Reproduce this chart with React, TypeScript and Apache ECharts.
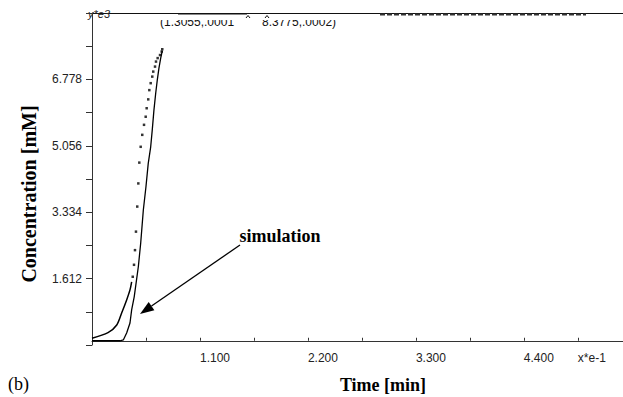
import React, { useEffect, useRef } from "react";
import * as echarts from "echarts";

// Simulation (solid line)
const simTime = [0, 0.285, 0.319, 0.353, 0.387, 0.404, 0.43, 0.472, 0.496, 0.523, 0.55, 0.573, 0.598, 0.614, 0.631, 0.649, 0.665, 0.682, 0.7, 0.716];
const simConc = [0, 0, 0.02, 0.2, 0.46, 0.8, 1.14, 1.92, 2.53, 3.39, 4.0, 4.6, 5.03, 5.47, 5.98, 6.42, 6.76, 7.07, 7.33, 7.52];

// Experiment, dense low part (appears as a line)
const expTimeLine = [0, 0.163, 0.252, 0.302, 0.353, 0.387, 0.404];
const expConcLine = [0.065, 0.21, 0.41, 0.72, 1.06, 1.32, 1.53];

// Experiment, sparse dots
const expTimeDots = [0.415, 0.428, 0.438, 0.448, 0.461, 0.472, 0.482, 0.496, 0.512, 0.53, 0.547, 0.557, 0.573, 0.584, 0.598, 0.614, 0.624, 0.642, 0.652, 0.669, 0.693, 0.71, 0.716];
const expConcDots = [1.66, 1.97, 2.35, 2.83, 3.48, 4.08, 4.62, 5.03, 5.34, 5.6, 5.81, 6.03, 6.26, 6.5, 6.68, 6.85, 6.98, 7.11, 7.24, 7.33, 7.41, 7.5, 7.56];

// Axes
const xMin = 0;
const xMax = 5.41;
const xStep = 0.55;
const yMin = -0.11;
const yMax = 8.5;
const yStep = 0.861;

const tickFont = "Liberation Sans";
const serif = "Liberation Serif";

export default function App() {
  const ref = useRef<HTMLDivElement>(null);
  useEffect(() => {
    if (!ref.current) return;
    const chart = echarts.init(ref.current, null, { renderer: "svg" });
    const zip = (a: number[], b: number[]) => a.map((v, i) => [v, b[i]]);
    // arrow geometry
    const sx = 240, sy = 245, tx = 140, ty = 314;
    const dx = tx - sx, dy = ty - sy;
    const len = Math.sqrt(dx * dx + dy * dy);
    const ux = dx / len, uy = dy / len;
    const hl = 14, hw = 5;
    const bx = tx - hl * ux, by = ty - hl * uy;
    const nx = -uy, ny = ux;
    chart.setOption({
      animation: false,
      backgroundColor: "#fff",
      grid: { left: 92, right: 0, top: 13, bottom: 52, containLabel: false },
      xAxis: {
        type: "value",
        min: xMin,
        max: xMax,
        interval: xStep,
        axisLine: { show: true, lineStyle: { color: "#333", width: 1 } },
        axisTick: { show: true, inside: true, length: 3, lineStyle: { color: "#333" } },
        splitLine: { show: false },
        axisLabel: {
          align: "left",
          margin: 7,
          fontFamily: tickFont,
          fontSize: 12,
          color: "#222",
          showMaxLabel: false,
          formatter: (v: number) => {
            const k = Math.round((v - xMin) / xStep);
            if (k % 2 === 0 && k > 0 && k <= 8) return v.toFixed(3);
            if (k === 9) return "x*e-1";
            return "";
          },
        },
      },
      yAxis: {
        type: "value",
        min: yMin,
        max: yMax,
        interval: yStep,
        axisLine: { show: true, lineStyle: { color: "#333", width: 1 } },
        axisTick: { show: true, inside: false, length: 6, lineStyle: { color: "#333" } },
        splitLine: { show: false },
        axisLabel: {
          margin: 10,
          padding: [5, 0, 0, 0],
          fontFamily: tickFont,
          fontSize: 12,
          color: "#222",
          formatter: (v: number) => {
            const k = Math.round((v - yMin) / yStep);
            if (k % 2 === 0 && k > 0 && k <= 8) return v.toFixed(3);
            return "";
          },
        },
      },
      series: [
        {
          type: "line",
          data: zip(simTime, simConc),
          showSymbol: false,
          lineStyle: { color: "#000", width: 1.3 },
        },
        {
          type: "line",
          data: zip(expTimeLine, expConcLine),
          showSymbol: false,
          smooth: 0.3,
          lineStyle: { color: "#000", width: 1.5 },
        },
        {
          type: "scatter",
          data: zip(expTimeDots, expConcDots),
          symbol: "rect",
          symbolSize: 2.5,
          itemStyle: { color: "#000" },
        },
      ],
      graphic: [
        // top frame line
        { type: "line", shape: { x1: 92, y1: 13.5, x2: 623, y2: 13.5 }, style: { stroke: "#111", lineWidth: 1 } },
        { type: "line", shape: { x1: 178, y1: 14, x2: 247, y2: 14 }, style: { stroke: "#111", lineWidth: 2 } },
        { type: "line", shape: { x1: 380, y1: 14.5, x2: 586, y2: 14.5 }, style: { stroke: "#333", lineWidth: 2, lineDash: [5, 2] } },
        // clipped coordinate readout
        { type: "text", style: { text: "(1.3055,.0001", x: 160, y: 22, verticalAlign: "middle", font: `12px ${tickFont}`, fill: "#111" } },
        { type: "text", style: { text: "8.3775,.0002)", x: 262, y: 22, verticalAlign: "middle", font: `12px ${tickFont}`, fill: "#111" } },
        { type: "rect", shape: { x: 150, y: 14.6, width: 200, height: 5.4 }, style: { fill: "#fff" } },
        { type: "polyline", shape: { points: [[246, 18], [248, 15.5], [250, 18]] }, style: { stroke: "#111", lineWidth: 1, fill: null } },
        { type: "polyline", shape: { points: [[265, 18], [267, 15.5], [269, 18]] }, style: { stroke: "#111", lineWidth: 1, fill: null } },
        // y unit label
        { type: "text", style: { text: "y*e3", x: 88, y: 14, verticalAlign: "middle", font: `italic 11px ${tickFont}`, fill: "#222" } },
        // axis titles
        {
          type: "text",
          x: 29,
          y: 194,
          rotation: Math.PI / 2,
          style: { text: "Concentration [mM]", align: "center", verticalAlign: "middle", font: `bold 20px ${serif}`, fill: "#000" },
        },
        { type: "text", style: { text: "Time [min]", x: 383, y: 385, align: "center", verticalAlign: "middle", font: `bold 18px ${serif}`, fill: "#000" } },
        { type: "text", style: { text: "(b)", x: 8, y: 384, verticalAlign: "middle", font: `18px ${serif}`, fill: "#000" } },
        // annotation
        { type: "text", style: { text: "simulation", x: 280, y: 236, align: "center", verticalAlign: "middle", font: `bold 18px ${serif}`, fill: "#000" } },
        { type: "line", shape: { x1: sx, y1: sy, x2: bx, y2: by }, style: { stroke: "#000", lineWidth: 1.3 } },
        {
          type: "polygon",
          shape: { points: [[tx, ty], [bx + hw * nx, by + hw * ny], [bx - hw * nx, by - hw * ny]] },
          style: { fill: "#000" },
        },
      ],
    });
    return () => chart.dispose();
  }, []);
  return (
    <div
      ref={ref}
      style={{ position: "absolute", left: 0, top: 0, width: 623, height: 397 }}
    />
  );
}
